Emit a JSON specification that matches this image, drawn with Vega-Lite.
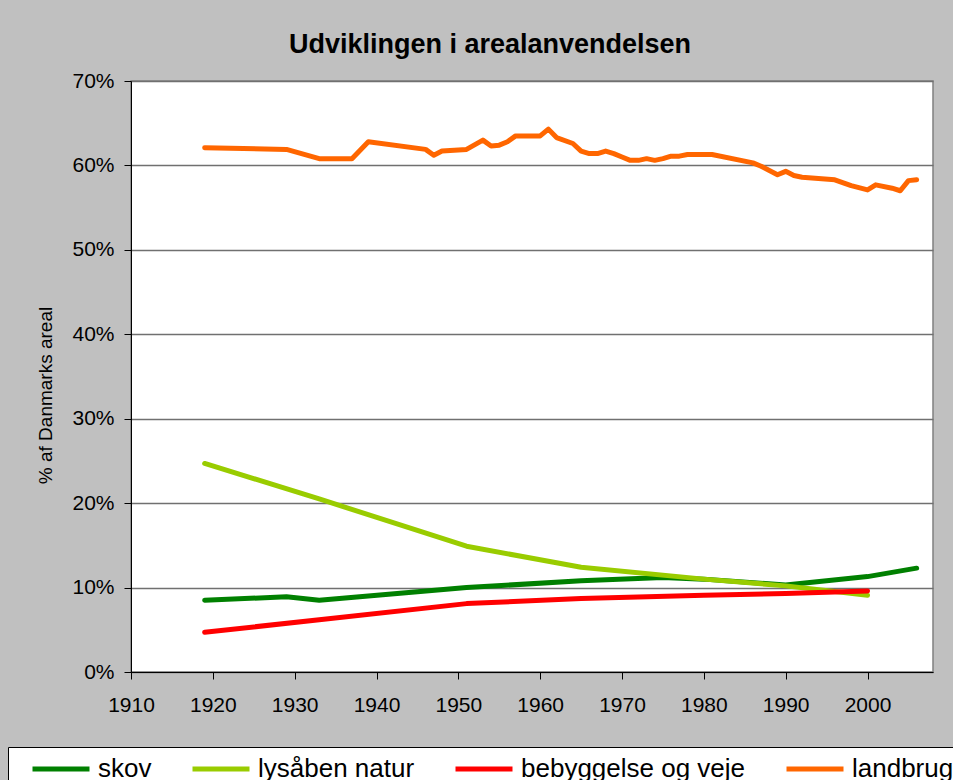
{
  "$schema": "https://vega.github.io/schema/vega-lite/v6.json",
  "width": 802,
  "height": 591,
  "autosize": {"type": "none"},
  "padding": {"left": 131, "top": 81, "right": 20, "bottom": 108},
  "background": "#C0C0C0",
  "title": {
    "text": "Udviklingen i arealanvendelsen",
    "font": "Liberation Sans",
    "fontSize": 27,
    "fontWeight": "bold",
    "color": "#000000",
    "anchor": "middle",
    "dx": -42,
    "dy": 39,
    "baseline": "alphabetic",
    "offset": 29
  },
  "data": {
    "values": [
      {"series": "skov", "year": 1919, "value": 8.5},
      {"series": "skov", "year": 1929, "value": 8.9},
      {"series": "skov", "year": 1933, "value": 8.5},
      {"series": "skov", "year": 1951, "value": 10.0},
      {"series": "skov", "year": 1965, "value": 10.8},
      {"series": "skov", "year": 1975, "value": 11.2},
      {"series": "skov", "year": 1980, "value": 11.0},
      {"series": "skov", "year": 1990, "value": 10.3},
      {"series": "skov", "year": 2000, "value": 11.3},
      {"series": "skov", "year": 2006, "value": 12.3},
      {"series": "lysåben natur", "year": 1919, "value": 24.7},
      {"series": "lysåben natur", "year": 1933, "value": 20.5},
      {"series": "lysåben natur", "year": 1951, "value": 14.9},
      {"series": "lysåben natur", "year": 1965, "value": 12.4},
      {"series": "lysåben natur", "year": 1980, "value": 11.0},
      {"series": "lysåben natur", "year": 1990, "value": 10.2},
      {"series": "lysåben natur", "year": 2000, "value": 9.1},
      {"series": "bebyggelse og veje", "year": 1919, "value": 4.7},
      {"series": "bebyggelse og veje", "year": 1933, "value": 6.2},
      {"series": "bebyggelse og veje", "year": 1951, "value": 8.1},
      {"series": "bebyggelse og veje", "year": 1965, "value": 8.7},
      {"series": "bebyggelse og veje", "year": 1980, "value": 9.1},
      {"series": "bebyggelse og veje", "year": 1990, "value": 9.3},
      {"series": "bebyggelse og veje", "year": 2000, "value": 9.6},
      {"series": "landbrug", "year": 1919, "value": 62.1},
      {"series": "landbrug", "year": 1929, "value": 61.9},
      {"series": "landbrug", "year": 1933, "value": 60.8},
      {"series": "landbrug", "year": 1937, "value": 60.8},
      {"series": "landbrug", "year": 1939, "value": 62.8},
      {"series": "landbrug", "year": 1946, "value": 61.9},
      {"series": "landbrug", "year": 1947, "value": 61.2},
      {"series": "landbrug", "year": 1948, "value": 61.7},
      {"series": "landbrug", "year": 1951, "value": 61.9},
      {"series": "landbrug", "year": 1953, "value": 63.0},
      {"series": "landbrug", "year": 1954, "value": 62.3},
      {"series": "landbrug", "year": 1955, "value": 62.4},
      {"series": "landbrug", "year": 1956, "value": 62.8},
      {"series": "landbrug", "year": 1957, "value": 63.5},
      {"series": "landbrug", "year": 1960, "value": 63.5},
      {"series": "landbrug", "year": 1961, "value": 64.3},
      {"series": "landbrug", "year": 1962, "value": 63.3},
      {"series": "landbrug", "year": 1964, "value": 62.6},
      {"series": "landbrug", "year": 1965, "value": 61.7},
      {"series": "landbrug", "year": 1966, "value": 61.4},
      {"series": "landbrug", "year": 1967, "value": 61.4},
      {"series": "landbrug", "year": 1968, "value": 61.7},
      {"series": "landbrug", "year": 1969, "value": 61.4},
      {"series": "landbrug", "year": 1970, "value": 61.0},
      {"series": "landbrug", "year": 1971, "value": 60.6},
      {"series": "landbrug", "year": 1972, "value": 60.6},
      {"series": "landbrug", "year": 1973, "value": 60.8},
      {"series": "landbrug", "year": 1974, "value": 60.6},
      {"series": "landbrug", "year": 1975, "value": 60.8},
      {"series": "landbrug", "year": 1976, "value": 61.1},
      {"series": "landbrug", "year": 1977, "value": 61.1},
      {"series": "landbrug", "year": 1978, "value": 61.3},
      {"series": "landbrug", "year": 1981, "value": 61.3},
      {"series": "landbrug", "year": 1986, "value": 60.3},
      {"series": "landbrug", "year": 1987, "value": 59.9},
      {"series": "landbrug", "year": 1989, "value": 58.9},
      {"series": "landbrug", "year": 1990, "value": 59.3},
      {"series": "landbrug", "year": 1991, "value": 58.8},
      {"series": "landbrug", "year": 1992, "value": 58.6},
      {"series": "landbrug", "year": 1996, "value": 58.3},
      {"series": "landbrug", "year": 1998, "value": 57.6},
      {"series": "landbrug", "year": 2000, "value": 57.1},
      {"series": "landbrug", "year": 2001, "value": 57.7},
      {"series": "landbrug", "year": 2003, "value": 57.3},
      {"series": "landbrug", "year": 2004, "value": 57.0},
      {"series": "landbrug", "year": 2005, "value": 58.2},
      {"series": "landbrug", "year": 2006, "value": 58.3}
    ]
  },
  "mark": {"type": "line", "strokeWidth": 5, "strokeCap": "round", "strokeJoin": "round"},
  "encoding": {
    "x": {
      "field": "year",
      "type": "quantitative",
      "scale": {"domain": [1910, 2008], "nice": false, "zero": false},
      "axis": {
        "title": null,
        "values": [1910, 1920, 1930, 1940, 1950, 1960, 1970, 1980, 1990, 2000],
        "format": "d",
        "grid": false,
        "domainColor": "#000000",
        "tickColor": "#000000",
        "tickSize": 7,
        "labelFont": "Liberation Sans",
        "labelFontSize": 21,
        "labelColor": "#000000",
        "labelPadding": 15,
        "labelFlush": false
      }
    },
    "y": {
      "field": "value",
      "type": "quantitative",
      "scale": {"domain": [0, 70], "nice": false},
      "axis": {
        "title": "% af Danmarks areal",
        "titleFont": "Liberation Sans",
        "titleFontSize": 19,
        "titleFontWeight": "normal",
        "titleColor": "#000000",
        "titleX": -86,
        "titleY": 314,
        "titleAngle": -90,
        "titleAlign": "center",
        "titleBaseline": "middle",
        "values": [0, 10, 20, 30, 40, 50, 60, 70],
        "labelExpr": "datum.value + '%'",
        "grid": true,
        "gridColor": "#707070",
        "gridWidth": 1.5,
        "domainColor": "#000000",
        "tickColor": "#000000",
        "tickSize": 7,
        "labelFont": "Liberation Sans",
        "labelFontSize": 21,
        "labelColor": "#000000",
        "labelPadding": 10,
        "labelFlush": false
      }
    },
    "color": {
      "field": "series",
      "type": "nominal",
      "sort": ["skov", "lysåben natur", "bebyggelse og veje", "landbrug"],
      "scale": {
        "domain": ["skov", "lysåben natur", "bebyggelse og veje", "landbrug"],
        "range": ["#008000", "#99CC00", "#FF0000", "#FF6600"]
      },
      "legend": {
        "title": " ",
        "titleOrient": "left",
        "titleFontSize": 1,
        "titlePadding": 31,
        "orient": "none",
        "direction": "horizontal",
        "columns": 4,
        "legendX": -123,
        "legendY": 666,
        "padding": 9,
        "fillColor": "#FFFFFF",
        "strokeColor": "#000000",
        "symbolType": "M-3,0H3",
        "symbolSize": 361,
        "symbolStrokeWidth": 5,
        "labelFont": "Liberation Sans",
        "labelFontSize": 26,
        "labelColor": "#000000",
        "labelOffset": 24,
        "columnPadding": 30,
        "labelLimit": 400
      }
    }
  },
  "config": {
    "view": {"stroke": "#808080", "fill": "#FFFFFF", "strokeWidth": 1.5}
  }
}
